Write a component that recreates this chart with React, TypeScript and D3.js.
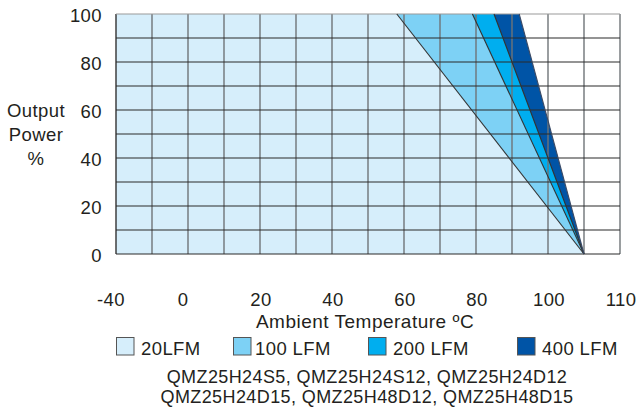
import React from "react";
import * as d3 from "d3";

const airflows = ["20LFM", "100 LFM", "200 LFM", "400 LFM"];
const fullPowerLimit = [58, 79, 85, 92]; // °C where derating begins (100%)
const zeroPowerTemp = 105; // °C where output reaches 0%
const fillColors = ["#d6eefb", "#7dd1f5", "#00aeef", "#0054a6"];
const xTickLabels = [-40, 0, 20, 40, 60, 80, 100, 110];
const xGridValues = [-40, -20, 0, 10, 20, 30, 40, 50, 60, 70, 80, 90, 100, 105, 110];
const yTickLabels = [0, 20, 40, 60, 80, 100];
const yGridValues = [0, 10, 20, 30, 40, 50, 60, 70, 80, 90, 100];
const yTitle = ["Output", "Power", "%"];
const xTitle = "Ambient Temperature ºC";
const modelLines = [
  "QMZ25H24S5, QMZ25H24S12, QMZ25H24D12",
  "QMZ25H24D15, QMZ25H48D12, QMZ25H48D15",
];

const W = 638;
const H = 408;
const left = 116, right = 620, top = 14, bottom = 254;
const font = "'Liberation Sans', Arial, Helvetica, sans-serif";
const textColor = "#231f20";
const ls = 0.4;

export default function App() {
  const x = d3.scaleLinear().domain([-40, 0, 100, 110]).range([left, 188, 548, right]);
  const y = d3.scaleLinear().domain([0, 100]).range([bottom, top]);

  const area = d3
    .line<[number, number]>()
    .x((d) => x(d[0]))
    .y((d) => y(d[1]));

  const order = airflows.map((_, i) => i).reverse();

  const legendX = [116, 233, 368, 517];

  return (
    <svg
      width={W}
      height={H}
      style={{ position: "absolute", left: 0, top: 0, background: "#fff" }}
      fontFamily={font}
    >
      {/* fills, widest first */}
      {order.map((i) => (
        <path
          key={"a" + i}
          d={
            area([
              [-40, 0],
              [-40, 100],
              [fullPowerLimit[i], 100],
              [zeroPowerTemp, 0],
            ]) + "Z"
          }
          fill={fillColors[i]}
          stroke="none"
        />
      ))}
      {/* vertical grid */}
      {xGridValues.map((v) => (
        <line
          key={"vx" + v}
          x1={x(v)}
          x2={x(v)}
          y1={top}
          y2={bottom}
          stroke={v === -40 ? "#333" : "#6f7478"}
          strokeWidth={1.4}
        />
      ))}
      {/* horizontal grid */}
      {yGridValues.map((v) => (
        <line
          key={"hy" + v}
          x1={left}
          x2={right}
          y1={y(v)}
          y2={y(v)}
          stroke={v === 100 ? "#9a9a9a" : "#2b2b2b"}
          strokeWidth={1.2}
        />
      ))}
      {/* derating lines */}
      {airflows.map((_, i) => (
        <path
          key={"l" + i}
          d={
            area([
              [fullPowerLimit[i], 100],
              [zeroPowerTemp, 0],
            ]) as string
          }
          fill="none"
          stroke={i === 3 ? "#3a4a66" : "#333"}
          strokeWidth={1.1}
        />
      ))}
      {/* y tick labels */}
      {yTickLabels.map((v) => (
        <text
          key={"yt" + v}
          x={102}
          y={y(v) + 2}
          dy="0.35em"
          textAnchor="end"
          fontSize={18.5}
          letterSpacing={ls}
          fill={textColor}
        >
          {v}
        </text>
      ))}
      {/* y title */}
      {yTitle.map((t, i) => (
        <text
          key={"ytl" + i}
          x={36}
          y={117 + i * 24}
          textAnchor="middle"
          fontSize={18.5}
          letterSpacing={ls}
          fill={textColor}
        >
          {t}
        </text>
      ))}
      {/* x tick labels */}
      {xTickLabels.map((v) => (
        <text
          key={"xt" + v}
          x={x(v) + (v <= 0 ? -5 : 1)}
          y={306}
          textAnchor="middle"
          fontSize={18.5}
          letterSpacing={ls}
          fill={textColor}
        >
          {v}
        </text>
      ))}
      <text
        x={365}
        y={328}
        textAnchor="middle"
        fontSize={19}
        letterSpacing={0.5}
        fill={textColor}
      >
        {xTitle}
      </text>
      {/* legend */}
      {airflows.map((name, i) => (
        <g key={"lg" + i}>
          <rect
            x={legendX[i] + 0.5}
            y={337.5}
            width={17.5}
            height={17.5}
            fill={fillColors[i]}
            stroke="#555"
            strokeWidth={1}
          />
          <text
            x={legendX[i] + (i === 0 ? 25 : i === 1 ? 22 : 25)}
            y={355}
            fontSize={18.5}
            letterSpacing={ls}
            fill={textColor}
          >
            {name}
          </text>
        </g>
      ))}
      {modelLines.map((t, i) => (
        <text
          key={"m" + i}
          x={367}
          y={383 + i * 20}
          textAnchor="middle"
          fontSize={18}
          letterSpacing={ls}
          fill={textColor}
        >
          {t}
        </text>
      ))}
    </svg>
  );
}
